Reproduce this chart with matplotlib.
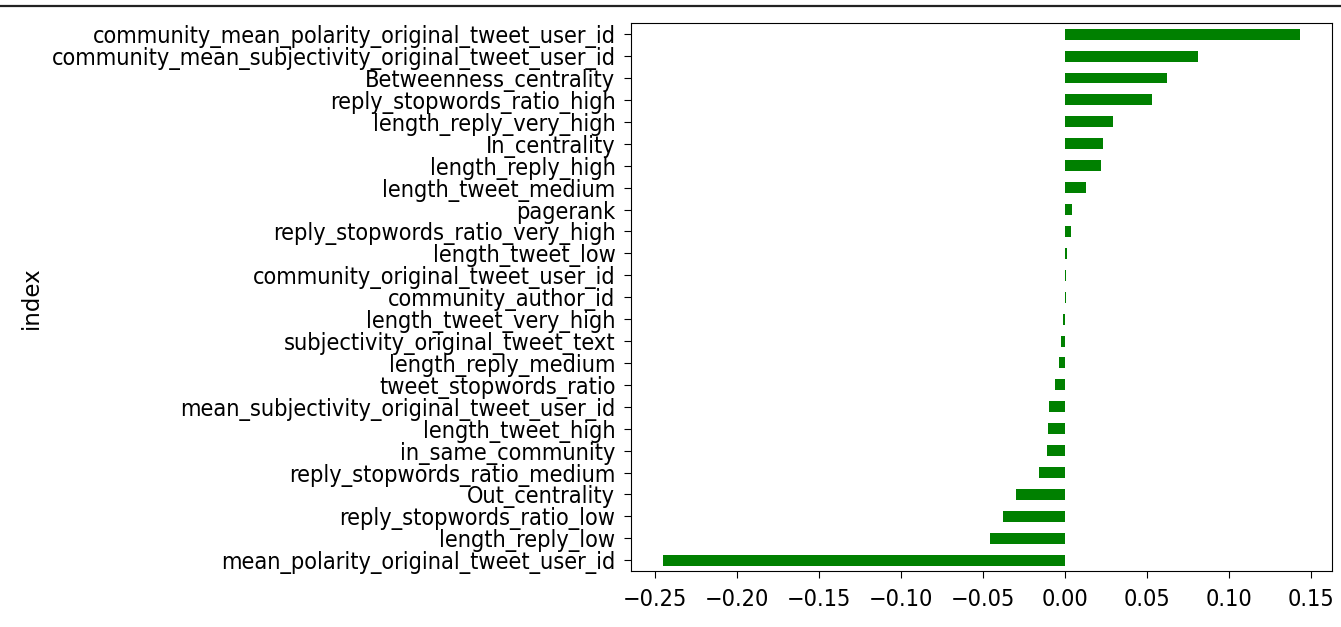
import matplotlib
matplotlib.use("Agg")
import matplotlib.pyplot as plt
from matplotlib import font_manager as fm
from matplotlib.lines import Line2D

# features sorted ascending (bottom of chart first)
features = [
    "mean_polarity_original_tweet_user_id",
    "length_reply_low",
    "reply_stopwords_ratio_low",
    "Out_centrality",
    "reply_stopwords_ratio_medium",
    "in_same_community",
    "length_tweet_high",
    "mean_subjectivity_original_tweet_user_id",
    "tweet_stopwords_ratio",
    "length_reply_medium",
    "subjectivity_original_tweet_text",
    "length_tweet_very_high",
    "community_author_id",
    "community_original_tweet_user_id",
    "length_tweet_low",
    "reply_stopwords_ratio_very_high",
    "pagerank",
    "length_tweet_medium",
    "length_reply_high",
    "In_centrality",
    "length_reply_very_high",
    "reply_stopwords_ratio_high",
    "Betweenness_centrality",
    "community_mean_subjectivity_original_tweet_user_id",
    "community_mean_polarity_original_tweet_user_id",
]
coefs = [
    -0.2455, -0.0457, -0.0378, -0.0303, -0.0162, -0.0110, -0.0104, -0.0096,
    -0.0061, -0.0037, -0.0023, -0.0014, 0.0006, 0.0007, 0.0008, 0.0033,
    0.0043, 0.0125, 0.0220, 0.0230, 0.0290, 0.0530, 0.0620, 0.0810, 0.1430,
]

# the labels in the screenshot are narrow and tall: prefer a condensed face
cond = fm.FontProperties(family="DejaVu Sans", stretch="condensed")
path = fm.findfont(cond, fallback_to_default=True)
if "Condensed" in path:
    tick_font = fm.FontProperties(fname=path, size=16.8)
else:
    tick_font = fm.FontProperties(family="DejaVu Sans", size=14.5)

fig = plt.figure(figsize=(13.41, 6.27), dpi=100)
ax = fig.add_axes([0.4703, 0.089, 0.5227, 0.874])

pos = range(len(features))
ax.barh(pos, coefs, height=0.5, color="green")
ax.set_yticks(pos)
ax.set_yticklabels(features, fontproperties=tick_font)
for lab in ax.get_xticklabels():
    lab.set_fontproperties(tick_font)
ax.set_ylim(-0.5, len(features) - 0.5)
ax.margins(x=0.05)
ax.tick_params(axis="x", length=5, pad=7)
ax.tick_params(axis="y", length=5, pad=6)
ax.set_ylabel("index", fontsize=16.5)
ax.yaxis.set_label_coords(-0.838, 0.5)

# thin rule at the very top of the screenshot
fig.add_artist(Line2D([0, 1], [1 - 6 / 627, 1 - 6 / 627], color="#222222", lw=1.6))

fig.savefig("out.png", dpi=100)
